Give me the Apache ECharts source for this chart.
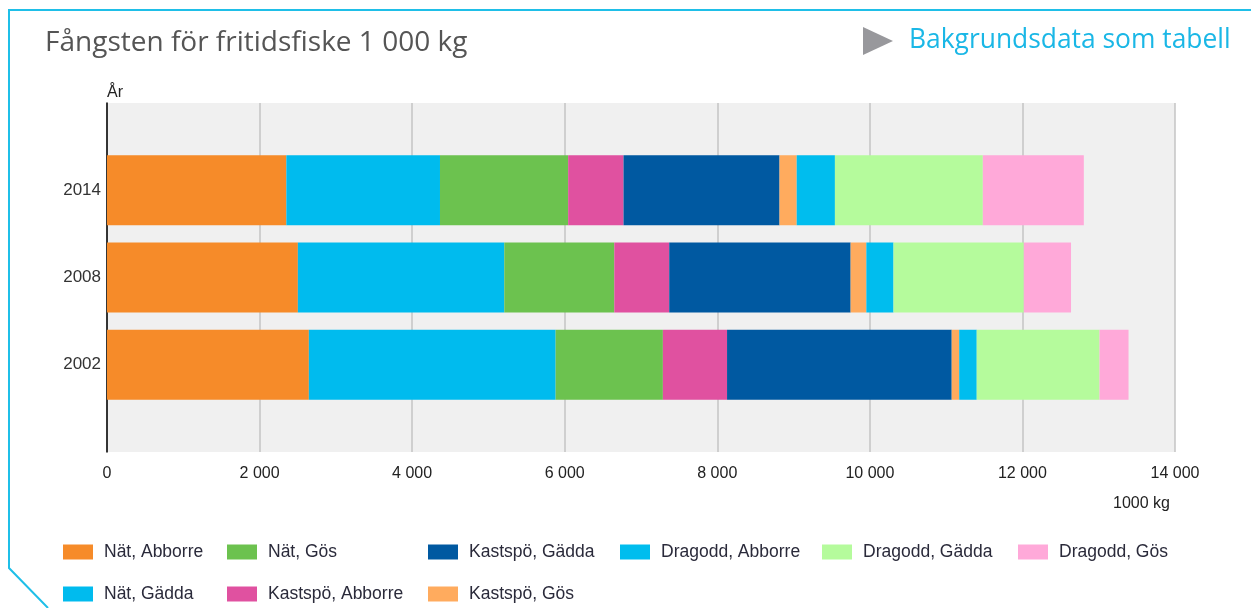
<!DOCTYPE html>
<html>
<head>
<meta charset="utf-8">
<script src="https://cdn.jsdelivr.net/npm/echarts@6/dist/echarts.min.js"></script>
<style>
  html, body { margin: 0; padding: 0; background: #fff; }
  #chart { width: 1251px; height: 608px; }
</style>
</head>
<body>
<div id="chart"></div>
<script>
// years, bottom to top
var years = ['2002', '2008', '2014'];
var xTicks = [0, 2000, 4000, 6000, 8000, 10000, 12000, 14000];

// values per series, same order as years (1000 kg)
var natAbborre      = [2646, 2502, 2351];
var natGadda        = [3235, 2706, 2014];
var natGos          = [1406, 1442, 1680];
var kastAbborre     = [841, 720, 726];
var kastGadda       = [2945, 2378, 2045];
var kastGos         = [98, 206, 225];
var dragAbborre     = [230, 356, 501];
var dragGadda       = [1610, 1708, 1939];
var dragGos         = [380, 619, 1324];

var seriesNames = ['Nät, Abborre', 'Nät, Gädda', 'Nät, Gös', 'Kastspö, Abborre', 'Kastspö, Gädda',
                   'Kastspö, Gös', 'Dragodd, Abborre', 'Dragodd, Gädda', 'Dragodd, Gös'];
var seriesData = [natAbborre, natGadda, natGos, kastAbborre, kastGadda, kastGos, dragAbborre, dragGadda, dragGos];
var colors = ['#f68b29', '#00bbee', '#6cc24f', '#e051a0', '#0059a1', '#ffab5e', '#00bdee', '#b5fb9c', '#ffa9d9'];

// legend slots [left, top] in the same order as seriesNames
var legendPos = [[63, 543], [63, 585], [227, 543], [227, 585], [428, 543],
                 [428, 585], [620, 543], [822, 543], [1018, 543]];

// empty slot above and below so the bars sit like the original
var cats = [''].concat(years, ['']);

function fmt(v) {
    return String(v).replace(/\B(?=(\d{3})+(?!\d))/g, ' ');
}

var series = seriesNames.map(function (name, i) {
    return {
        name: name,
        type: 'bar',
        stack: 'total',
        barWidth: 70,
        itemStyle: { color: colors[i] },
        data: ['-'].concat(seriesData[i], ['-'])
    };
});

var legends = seriesNames.map(function (name, i) {
    return {
        left: legendPos[i][0], top: legendPos[i][1], padding: 0,
        itemWidth: 30, itemHeight: 15, itemGap: 0,
        icon: 'rect', selectedMode: false,
        textStyle: { fontFamily: 'Liberation Sans', fontSize: 17.5, color: '#2a2a3a', padding: [0, 0, 0, 6] },
        data: [name]
    };
});

var chart = echarts.init(document.getElementById('chart'));
chart.setOption({
    animation: false,
    color: colors,
    title: {
        text: 'Fångsten för fritidsfiske 1 000 kg',
        left: 40, top: 24,
        textStyle: { fontFamily: 'Open Sans', fontWeight: 'normal', fontSize: 28, color: '#555' }
    },
    graphic: [
        { type: 'polyline', shape: { points: [[1251, 10], [9, 10], [9, 568], [48, 608]] },
          style: { stroke: '#1fbfe8', lineWidth: 2, fill: null } },
        { type: 'polygon', shape: { points: [[863, 27], [893, 41], [863, 55]] },
          style: { fill: '#98989c' } },
        { type: 'text', left: 909, top: 27,
          style: { text: 'Bakgrundsdata som tabell', fill: '#1ab7e6', font: '26.4px "Open Sans"' } },
        { type: 'text', right: 81, top: 496,
          style: { text: '1000 kg', fill: '#222', font: '16px "Liberation Sans"' } }
    ],
    legend: legends,
    grid: {
        left: 107, right: 76, top: 103, bottom: 156,
        show: true, backgroundColor: '#f0f0f0', borderWidth: 0
    },
    xAxis: {
        type: 'value', min: 0, max: 14000, interval: 2000,
        axisLine: { show: false },
        axisTick: { show: false },
        splitLine: { lineStyle: { color: '#c4c4c4', width: 1.5 } },
        axisLabel: {
            margin: 14, color: '#222', fontFamily: 'Liberation Sans', fontSize: 16,
            formatter: function (v) { return xTicks.indexOf(v) >= 0 ? fmt(v) : ''; }
        }
    },
    yAxis: {
        type: 'category', data: cats, boundaryGap: false,
        name: 'År', nameLocation: 'end', nameGap: 2,
        nameTextStyle: { align: 'left', color: '#222', fontFamily: 'Liberation Sans', fontSize: 16 },
        axisLine: { lineStyle: { color: '#000', width: 1.5 } },
        axisTick: { show: false },
        splitLine: { show: false },
        axisLabel: { margin: 6, color: '#333', fontFamily: 'Liberation Sans', fontSize: 17 }
    },
    series: series
});
</script>
</body>
</html>
